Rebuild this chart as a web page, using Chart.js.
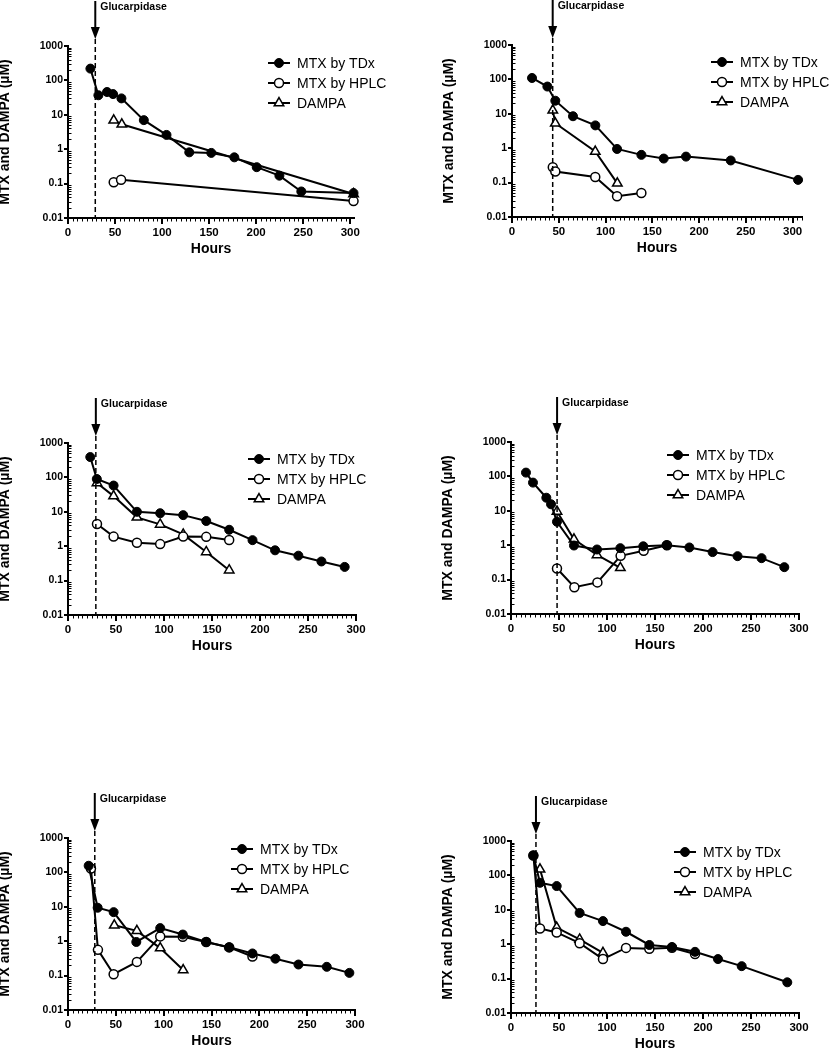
<!DOCTYPE html>
<html>
<head>
<meta charset="utf-8">
<script src="https://cdn.jsdelivr.net/npm/chart.js@4.4.1/dist/chart.umd.min.js"></script>
<style>
    html, body { margin: 0; padding: 0; background: #fff; }
    body { width: 830px; height: 1050px; position: relative; overflow: hidden; }
    canvas { position: absolute; }
</style>
</head>
<body>
<script>
// --- Data: [hours, concentration µM] per series, one set per patient panel ---
const seriesLabels = ['MTX by TDx', 'MTX by HPLC', 'DAMPA'];
const glucarpidaseHours = [29, 43.5, 29, 48, 28, 26];
const xAxisMax = [304, 310, 300, 300, 300, 300];
const xTickValues = [0, 50, 100, 150, 200, 250, 300];
const yTickValues = [0.01, 0.1, 1, 10, 100, 1000];

const p1Tdx = [[23.8, 220], [32.3, 37], [41.5, 46], [47.9, 40], [56.8, 30], [80.6, 7], [104.7, 2.6], [128.9, 0.81], [152.3, 0.78], [176.8, 0.58], [200.6, 0.3], [224.7, 0.17], [248, 0.059], [303.5, 0.053]];
const p1Hplc = [[48.6, 0.11], [56.4, 0.13], [303.5, 0.031]];
const p1Dampa = [[48.6, 6.9], [57.2, 5.3], [303.5, 0.05]];

const p2Tdx = [[21.4, 110], [37.8, 62], [46.3, 24], [65.2, 8.5], [89.1, 4.6], [112.3, 0.95], [138.3, 0.64], [162.2, 0.5], [186, 0.57], [233.8, 0.44], [305.8, 0.12]];
const p2Hplc = [[43.6, 0.28], [46.3, 0.21], [89, 0.145], [112.3, 0.04], [138.3, 0.05]];
const p2Dampa = [[43.6, 12.6], [46.3, 5.3], [89, 0.8], [112.6, 0.095]];

const p3Tdx = [[23.2, 390], [30, 90], [47.5, 58], [71.8, 10], [96, 9.1], [120, 8], [144, 5.4], [167.9, 3], [192.2, 1.5], [215.7, 0.76], [240, 0.53], [264, 0.36], [288.2, 0.25]];
const p3Hplc = [[30.2, 4.4], [47.5, 1.9], [71.8, 1.26], [96, 1.15], [120, 1.9], [144, 1.87], [167.9, 1.52]];
const p3Dampa = [[30.2, 69], [47.5, 28.6], [71.8, 6.9], [96, 4.3], [120, 2.2], [144, 0.68], [167.9, 0.2]];

const p4Tdx = [[15.6, 129], [22.9, 66], [36.8, 24], [41.7, 15.5], [47.9, 4.8], [65.6, 0.98], [89.6, 0.75], [113.9, 0.82], [137.8, 0.93], [162, 1], [185.8, 0.86], [210, 0.63], [236, 0.48], [261, 0.42], [284.7, 0.23]];
const p4Hplc = [[47.9, 0.21], [66, 0.06], [90, 0.083], [114.2, 0.49], [138.2, 0.69], [162.5, 1]];
const p4Dampa = [[47.9, 9.6], [65.6, 1.48], [89.6, 0.52], [113.9, 0.22]];

const p5Tdx = [[21.6, 156], [31, 9.4], [47.7, 7], [71.4, 0.95], [96.4, 2.4], [120, 1.56], [144.4, 0.95], [168.5, 0.67], [192.8, 0.44], [216.8, 0.31], [240.9, 0.21], [270.5, 0.18], [294.1, 0.12]];
const p5Hplc = [[24, 130], [31.3, 0.56], [47.7, 0.11], [72, 0.25], [96.4, 1.38], [120, 1.35], [144.4, 0.95], [168.5, 0.66], [192.8, 0.36]];
const p5Dampa = [[48.4, 2.9], [72, 2], [96.4, 0.63], [120.4, 0.145]];

const p6Tdx = [[23.3, 380], [30.2, 61], [47.6, 49], [71.5, 8.1], [95.8, 4.7], [119.8, 2.3], [144.1, 0.95], [167.7, 0.83], [191.7, 0.6], [215.6, 0.37], [240.3, 0.23], [287.8, 0.078]];
const p6Hplc = [[23.3, 380], [30.2, 2.86], [47.6, 2.2], [71.5, 1.07], [95.8, 0.37], [119.8, 0.78], [144.1, 0.74], [167.7, 0.79], [191.7, 0.52]];
const p6Dampa = [[30.2, 150], [47.6, 3.05], [71.5, 1.38], [95.8, 0.56]];

const panelSeries = [
    [p1Tdx, p1Hplc, p1Dampa],
    [p2Tdx, p2Hplc, p2Dampa],
    [p3Tdx, p3Hplc, p3Dampa],
    [p4Tdx, p4Hplc, p4Dampa],
    [p5Tdx, p5Hplc, p5Dampa],
    [p6Tdx, p6Hplc, p6Dampa]
];

// --- Layout (page pixels): plot area of each panel, legend offset from its top-right corner ---
const plotAreas = [
    { l: 68, t: 46, r: 354, b: 218 },
    { l: 512, t: 45, r: 802, b: 217 },
    { l: 68, t: 443, r: 356, b: 615 },
    { l: 511, t: 442, r: 799, b: 614 },
    { l: 68, t: 838, r: 355, b: 1010 },
    { l: 511, t: 841, r: 799, b: 1013 }
];
const legendAt = [
    { x: -75, y: 17 }, { x: -80, y: 17 }, { x: -97, y: 16 },
    { x: -121, y: 13 }, { x: -113, y: 11 }, { x: -114, y: 11 }
];

const FONT = '"Liberation Sans", Arial, sans-serif';
const Y_W = 71;   // width of y axis box (title + ticks)
const X_H = 42;   // height of x axis box (ticks + title)

Chart.defaults.font.family = FONT;
Chart.defaults.color = '#000';

const seriesStyles = [
    { pointStyle: 'circle', pointRadius: 4.5, pointBackgroundColor: '#000', pointBorderWidth: 1 },
    { pointStyle: 'circle', pointRadius: 4.5, pointBackgroundColor: '#fff', pointBorderWidth: 1.5 },
    { pointStyle: 'triangle', pointRadius: 5.5, pointBackgroundColor: '#fff', pointBorderWidth: 1.5 }
];

// --- Plugin: glucarpidase arrow + dashed line, minor ticks, legend ---
const decorations = {
    id: 'decorations',
    afterDraw(chart, args, opts) {
        const ctx = chart.ctx;
        const { top, bottom, left, right } = chart.chartArea;
        const xs = chart.scales.x, ys = chart.scales.y;
        ctx.save();
        ctx.strokeStyle = '#000';
        ctx.fillStyle = '#000';

        // minor ticks
        ctx.lineWidth = 1;
        ctx.beginPath();
        for (let v = 5; v <= xs.max; v += 5) {
            if (v % 50 === 0) continue;
            const px = Math.round(xs.getPixelForValue(v)) + 0.5;
            ctx.moveTo(px, bottom);
            ctx.lineTo(px, bottom + 3.5);
        }
        [0.01, 0.1, 1, 10, 100].forEach(d => {
            for (let k = 2; k <= 9; k++) {
                const py = Math.round(ys.getPixelForValue(k * d)) + 0.5;
                ctx.moveTo(left, py);
                ctx.lineTo(left + 3.5, py);
            }
        });
        ctx.stroke();

        // glucarpidase marker
        const gx = xs.getPixelForValue(opts.hour);
        ctx.lineWidth = 1.5;
        ctx.setLineDash([5, 3]);
        ctx.beginPath();
        ctx.moveTo(gx, top - 7);
        ctx.lineTo(gx, bottom);
        ctx.stroke();
        ctx.setLineDash([]);
        ctx.lineWidth = 2;
        ctx.beginPath();
        ctx.moveTo(gx, top - 45);
        ctx.lineTo(gx, top - 17);
        ctx.stroke();
        ctx.beginPath();
        ctx.moveTo(gx - 4.5, top - 19);
        ctx.lineTo(gx + 4.5, top - 19);
        ctx.lineTo(gx, top - 7);
        ctx.closePath();
        ctx.fill();
        ctx.font = 'bold 10.5px ' + FONT;
        ctx.textAlign = 'left';
        ctx.textBaseline = 'alphabetic';
        ctx.fillText('Glucarpidase', gx + 5, top - 36);

        // legend
        ctx.font = '14px ' + FONT;
        ctx.textBaseline = 'middle';
        chart.data.datasets.forEach((ds, i) => {
            const mx = right + opts.legend.x;
            const my = top + opts.legend.y + i * 20;
            ctx.lineWidth = 2;
            ctx.strokeStyle = '#000';
            ctx.beginPath();
            ctx.moveTo(mx - 11, my);
            ctx.lineTo(mx + 11, my);
            ctx.stroke();
            ctx.fillStyle = ds.pointBackgroundColor;
            ctx.lineWidth = ds.pointBorderWidth;
            Chart.helpers.drawPoint(ctx, {
                pointStyle: ds.pointStyle,
                radius: ds.pointRadius,
                borderWidth: ds.pointBorderWidth,
                rotation: 0
            }, mx, my);
            ctx.fillStyle = '#000';
            ctx.fillText(ds.label, mx + 18, my + 1);
        });
        ctx.restore();
    }
};

plotAreas.forEach((a, i) => {
    const col = i % 2;
    const x0 = col === 0 ? -3 : 415;
    const w = col === 0 ? 418 : 415;
    const y0 = a.t - 50;
    const h = a.b - a.t + 100;

    const canvas = document.createElement('canvas');
    canvas.width = w;
    canvas.height = h;
    canvas.style.left = x0 + 'px';
    canvas.style.top = y0 + 'px';
    document.body.appendChild(canvas);

    const datasets = panelSeries[i].map((pts, s) => Object.assign({
        label: seriesLabels[s],
        data: pts.map(p => ({ x: p[0], y: p[1] })),
        borderColor: '#000',
        borderWidth: 2,
        pointBorderColor: '#000',
        pointHoverRadius: 5,
        tension: 0,
        clip: false
    }, seriesStyles[s]));

    new Chart(canvas, {
        type: 'line',
        data: { datasets },
        options: {
            responsive: false,
            animation: false,
            layout: {
                padding: {
                    left: a.l - x0 - Y_W,
                    top: 50,
                    right: x0 + w - a.r,
                    bottom: 50 - X_H
                }
            },
            plugins: {
                legend: { display: false },
                tooltip: { enabled: false },
                decorations: { hour: glucarpidaseHours[i], legend: legendAt[i] }
            },
            scales: {
                x: {
                    type: 'linear',
                    min: 0,
                    max: xAxisMax[i],
                    afterBuildTicks: s => { s.ticks = xTickValues.map(v => ({ value: v })); },
                    afterFit: s => { s.height = X_H; s.paddingLeft = 0; s.paddingRight = 0; },
                    ticks: { font: { size: 11.5, weight: 'bold' }, color: '#000', padding: 2, maxRotation: 0, autoSkip: false },
                    grid: { drawOnChartArea: false, drawTicks: true, tickLength: 6, color: '#000', lineWidth: 2 },
                    border: { display: true, color: '#000', width: 2 },
                    title: { display: true, text: 'Hours', color: '#000', font: { size: 14, weight: 'bold' }, padding: { top: 0, bottom: 2 } }
                },
                y: {
                    type: 'logarithmic',
                    min: 0.01,
                    max: 1000,
                    afterBuildTicks: s => { s.ticks = yTickValues.map(v => ({ value: v })); },
                    afterFit: s => { s.width = Y_W; s.paddingTop = 0; s.paddingBottom = 0; },
                    ticks: { font: { size: 10.5, weight: 'bold' }, color: '#000', padding: 1, autoSkip: false, callback: v => String(v) },
                    grid: { drawOnChartArea: false, drawTicks: true, tickLength: 4, color: '#000', lineWidth: 2 },
                    border: { display: true, color: '#000', width: 2 },
                    title: { display: true, text: 'MTX and DAMPA (µM)', color: '#000', font: { size: 14, weight: 'bold' }, padding: { top: 0, bottom: 0 } }
                }
            }
        },
        plugins: [decorations]
    });
});
</script>
</body>
</html>
